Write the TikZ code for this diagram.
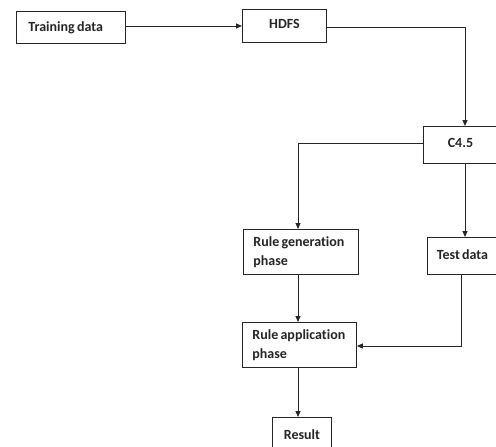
\documentclass[tikz,border=0pt]{standalone}
\usepackage{fontspec}
\setmainfont{Carlito}[Ligatures=NoCommon]
\usetikzlibrary{arrows.meta}
\newcommand{\tightsp}{\spaceskip=0.16em plus 0.05em\relax}
\begin{document}
\begin{tikzpicture}[x=1pt,y=-1pt,
  box/.style={draw=black!85,line width=0.9pt,fill=white,anchor=north west,inner sep=0pt,
    font=\bfseries\fontsize{14}{19}\selectfont\tightsp,text=black!85},
  conn/.style={draw=black!85,line width=0.9pt},
  arr/.style={conn,-{Triangle[length=6pt,width=5pt]}}]
\useasboundingbox (0,0) rectangle (496,447);
\clip (0,0) rectangle (496,447);
\fill[white] (0,0) rectangle (496,447);
% boxes
\node[box,minimum width=109pt,minimum height=32pt,align=left,text width=85pt] (train) at (16,11) {\raisebox{1pt}{\tightsp Training data}};
\node[box,minimum width=84pt,minimum height=33pt] (hdfs) at (242,9) {\raisebox{4pt}{HDFS}};
\node[box,minimum width=90pt,minimum height=37pt] (c45) at (423,126) {\hspace*{-16pt}\raisebox{4pt}{C4.5}};
\node[box,minimum width=90pt,minimum height=37pt] (test) at (427,237) {\hspace*{-20pt}\raisebox{3pt}{\tightsp Test data}};
\node[box,minimum width=115pt,minimum height=45pt,align=left,text width=95pt] (rgen) at (243,229) {\tightsp Rule generation\\phase};
\node[box,minimum width=114pt,minimum height=45pt,align=left,text width=94pt] (rapp) at (242,322) {\tightsp Rule application\\phase};
\node[box,minimum width=59pt,minimum height=45pt,anchor=north west] (res) at (272,417) {\raisebox{11pt}{Result}};
% coordinates
\coordinate (a1) at (465,27);
\coordinate (a2) at (298,143);
\coordinate (a3) at (461,346);
% connectors
\draw[arr] (train.east |- 0,26) -- (hdfs.west |- 0,26);
\draw[arr] (hdfs.east |- a1) -- (a1) -- (a1 |- c45.north);
\draw[arr] (c45.west |- a2) -- (a2) -- (a2 |- rgen.north);
\draw[arr] (465,163) -- (465,237);
\draw[arr] (rgen.south -| a2) -- (rapp.north -| a2);
\draw[arr] (a3 |- test.south) -- (a3) -- (rapp.east |- a3);
\draw[arr] (rapp.south -| a2) -- (res.north -| a2);
\end{tikzpicture}
\end{document}
